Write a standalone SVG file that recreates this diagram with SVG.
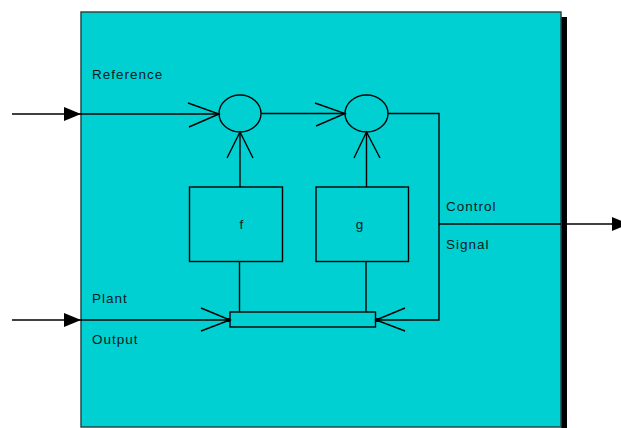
<svg xmlns="http://www.w3.org/2000/svg" width="621" height="428" viewBox="0 0 621 428">
<style>
.ln{fill:none;stroke:#000;stroke-width:1.4}
.t{font-family:"Liberation Sans",Arial,sans-serif;font-size:13.5px;letter-spacing:1px;fill:#0a1a1a}
</style>
<defs>
<marker id="fa" markerWidth="17" markerHeight="14" refX="17" refY="7" orient="auto" markerUnits="userSpaceOnUse">
<path d="M0,0 L17,7 L0,14 z" fill="#000"/>
</marker>
</defs>
<g id="frame">
<rect x="561" y="17" width="6" height="411" fill="#000"/>
<rect x="81" y="12" width="480" height="415" fill="#00d0d2" stroke="#2a4a4a" stroke-width="1.5"/>
</g>
<g id="sum1"><ellipse cx="240" cy="113.5" rx="21" ry="18.5" class="ln"/></g>
<g id="sum2"><ellipse cx="366.5" cy="113.5" rx="21.5" ry="18.5" class="ln"/></g>
<g id="f"><rect x="189.5" y="187" width="93" height="74.5" class="ln"/><text x="242" y="229" class="t" text-anchor="middle">f</text></g>
<g id="g"><rect x="316" y="187" width="92.5" height="74.5" class="ln"/><text x="360" y="229" class="t" text-anchor="middle">g</text></g>
<g id="bar"><rect x="230" y="312" width="145.5" height="15" class="ln"/></g>
<g id="connectors">
<line x1="12" y1="114" x2="81" y2="114" class="ln" marker-end="url(#fa)"/>
<line x1="81" y1="114" x2="219" y2="114" class="ln"/>
<polyline points="188,103 219,114 189,127" class="ln"/>
<line x1="261" y1="113.5" x2="345" y2="113.5" class="ln"/>
<polyline points="315,103 345,113.5 316,126" class="ln"/>
<line x1="240" y1="132" x2="240" y2="187" class="ln"/>
<polyline points="227,158 240,132 253,158" class="ln"/>
<line x1="366.5" y1="132" x2="366.5" y2="187" class="ln"/>
<polyline points="354,158 366.5,132 380,158" class="ln"/>
<line x1="239.5" y1="261.5" x2="239.5" y2="312" class="ln"/>
<line x1="366" y1="261.5" x2="366" y2="312" class="ln"/>
<line x1="12" y1="320" x2="81" y2="320" class="ln" marker-end="url(#fa)"/>
<line x1="81" y1="320" x2="230" y2="320" class="ln"/>
<polyline points="201,308 230,320 201,331" class="ln"/>
<rect x="226" y="318" width="4" height="4" fill="#000"/>
<polyline points="388,113.5 439,113.5 439,320 376,320" class="ln"/>
<polyline points="405,308 376,320 405,331" class="ln"/>
<rect x="375.5" y="318" width="4" height="4" fill="#000"/>
<line x1="439" y1="224" x2="561" y2="224" class="ln"/>
<line x1="567" y1="224" x2="629" y2="224" class="ln" marker-end="url(#fa)"/>
</g>
<g id="labels">
<text x="92" y="79" class="t">Reference</text>
<text x="92" y="303" class="t">Plant</text>
<text x="92" y="344" class="t">Output</text>
<text x="446" y="211" class="t">Control</text>
<text x="446" y="249" class="t">Signal</text>
</g>
</svg>
